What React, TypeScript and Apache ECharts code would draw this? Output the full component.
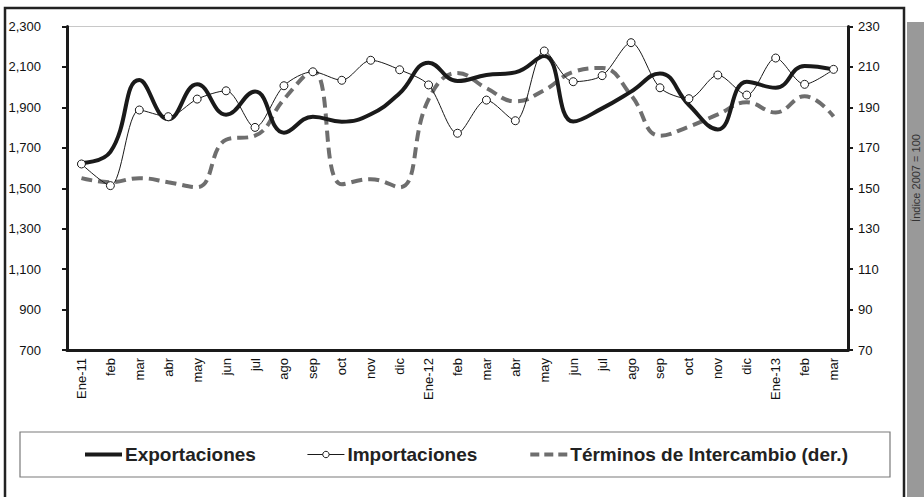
import React, { useEffect, useRef } from "react";
import * as echarts from "echarts";

const categories = [
  "Ene-11", "feb", "mar", "abr", "may", "jun", "jul", "ago", "sep", "oct", "nov", "dic",
  "Ene-12", "feb", "mar", "abr", "may", "jun", "jul", "ago", "sep", "oct", "nov", "dic",
  "Ene-13", "feb", "mar",
];

const exportaciones = [
  1625, 1680, 2035, 1841, 2014, 1864, 1978, 1775, 1854, 1829, 1866, 1970,
  2121, 2030, 2060, 2073, 2154, 1830, 1895, 1978, 2068, 1912, 1791, 2027,
  1997, 2105, 2088,
];

const importaciones = [
  1620, 1513, 1887, 1854, 1941, 1982, 1801, 2007, 2076, 2034, 2133, 2086,
  2011, 1772, 1936, 1834, 2179, 2027, 2057, 2220, 1997, 1943, 2060, 1961,
  2144, 2014, 2088,
];

const terminos = [
  155, 153, 155, 153, 150.5, 174, 176, 194, 208, 152, 154.5, 150.5,
  194, 207, 199.5, 193, 198.5, 207.5, 209.5, 196, 176, 180.5, 186.5, 192.5,
  187.5, 195.5, 185.5,
];

const leftTicks = { min: 700, max: 2300, interval: 200 };
const rightTicks = { min: 70, max: 230, interval: 20 };

const FONT = "'Liberation Sans', Arial, sans-serif";

export default function App() {
  const ref = useRef<HTMLDivElement>(null);

  useEffect(() => {
    if (!ref.current) return;
    const chart = echarts.init(ref.current, undefined, { renderer: "svg" });
    chart.setOption({
      animation: false,
      backgroundColor: "#ffffff",
      textStyle: { fontFamily: FONT },
      grid: {
        left: 67,
        right: 76,
        top: 26.5,
        bottom: 147,
        show: true,
        borderColor: "#c8c8c8",
        borderWidth: 1,
      },
      xAxis: {
        type: "category",
        data: categories,
        boundaryGap: true,
        axisLine: { lineStyle: { color: "#1a1a1a", width: 3 } },
        axisTick: { interval: 5, length: 5, lineStyle: { color: "#1a1a1a", width: 3 } },
        axisLabel: {
          interval: 0,
          rotate: 90,
          margin: 8,
          color: "#111",
          fontSize: 13,
          fontFamily: FONT,
        },
        splitLine: { show: false },
      },
      yAxis: [
        {
          type: "value",
          min: leftTicks.min,
          max: leftTicks.max,
          interval: leftTicks.interval,
          axisLine: { show: true, lineStyle: { color: "#1a1a1a", width: 3 } },
          axisTick: { show: true, length: 5, lineStyle: { color: "#1a1a1a", width: 2 } },
          axisLabel: {
            color: "#111",
            fontSize: 13,
            margin: 26,
            fontFamily: FONT,
            formatter: (v: number) => v.toLocaleString("en-US"),
          },
          splitLine: { show: false },
        },
        {
          type: "value",
          position: "right",
          min: rightTicks.min,
          max: rightTicks.max,
          interval: rightTicks.interval,
          axisLine: { show: true, lineStyle: { color: "#1a1a1a", width: 3 } },
          axisTick: { show: true, length: 5, lineStyle: { color: "#1a1a1a", width: 2 } },
          axisLabel: { color: "#111", fontSize: 13, margin: 10, fontFamily: FONT },
          splitLine: { show: false },
        },
      ],
      legend: {
        bottom: 28,
        left: 78,
        itemGap: 51,
        itemWidth: 37,
        itemHeight: 8,
        textStyle: { fontSize: 19, fontWeight: "bold", color: "#222", fontFamily: FONT, padding: [0, 0, 0, -2] },
        data: [
          {
            name: "Exportaciones",
            itemStyle: { opacity: 0 },
            lineStyle: { color: "#1a1a1a", width: 4, type: "solid" },
          },
          {
            name: "Importaciones",
            itemStyle: { color: "#ffffff", borderColor: "#1a1a1a", borderWidth: 1 },
            lineStyle: { color: "#1a1a1a", width: 1, type: "solid" },
          },
          {
            name: "Términos de Intercambio (der.)",
            itemStyle: { opacity: 0 },
            lineStyle: { color: "#6e6e6e", width: 4, type: [9, 5] },
          },
        ],
      },
      series: [
        {
          name: "Exportaciones",
          type: "line",
          data: exportaciones,
          smooth: 0.45,
          symbol: "none",
          lineStyle: { color: "#1a1a1a", width: 4 },
          itemStyle: { color: "#1a1a1a" },
          z: 4,
        },
        {
          name: "Importaciones",
          type: "line",
          data: importaciones,
          smooth: 0.3,
          symbol: "circle",
          symbolSize: 8,
          lineStyle: { color: "#1a1a1a", width: 1 },
          itemStyle: { color: "#ffffff", borderColor: "#1a1a1a", borderWidth: 1 },
          z: 5,
        },
        {
          name: "Términos de Intercambio (der.)",
          type: "line",
          yAxisIndex: 1,
          data: terminos,
          smooth: 0.45,
          symbol: "none",
          lineStyle: { color: "#6e6e6e", width: 4, type: [11, 6] },
          itemStyle: { color: "#6e6e6e" },
          z: 3,
        },
      ],
      graphic: [
        {
          type: "rect",
          shape: { x: 20, y: 432, width: 870, height: 45 },
          style: { fill: "none", stroke: "#7a7a7a", lineWidth: 1.2 },
          z: -1,
        },
        {
          type: "rect",
          shape: { x: 907, y: 22, width: 17, height: 480 },
          style: { fill: "#999999", stroke: "none" },
        },
        {
          type: "rect",
          shape: { x: 5, y: 8, width: 899, height: 500 },
          style: { fill: "none", stroke: "#222", lineWidth: 2.5 },
        },
        {
          type: "text",
          x: 916,
          y: 178,
          rotation: Math.PI / 2,
          style: {
            text: "Índice 2007 = 100",
            fill: "#333",
            fontSize: 11,
            fontFamily: FONT,
            align: "center",
            verticalAlign: "middle",
          },
        },
      ],
    });
    return () => chart.dispose();
  }, []);

  return (
    <div
      ref={ref}
      style={{ position: "fixed", left: 0, top: 0, width: 924, height: 497 }}
    />
  );
}
